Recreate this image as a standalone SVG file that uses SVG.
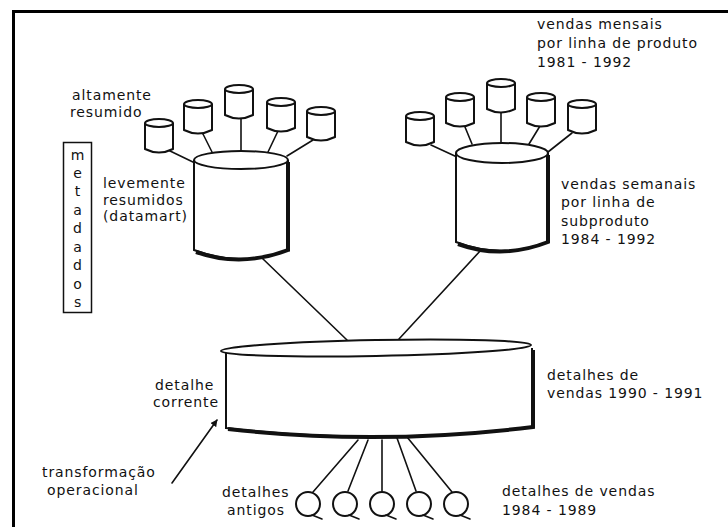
<svg xmlns="http://www.w3.org/2000/svg" width="728" height="527" viewBox="0 0 728 527">
  <style>
    text { font-family: "DejaVu Sans", Verdana, sans-serif; font-size: 14px; fill: #111; letter-spacing: 0.9px; }
    .ln { stroke: #111; stroke-width: 1.6; fill: none; stroke-linecap: round; }
    .shape { stroke: #111; stroke-width: 2; fill: #fff; }
    .thick { stroke: #111; stroke-width: 4; fill: none; }
    .frame { stroke: #000; stroke-width: 3; fill: #fff; }
  </style>
  <defs>
    <!-- small summary cylinder, origin at centre of its top ellipse -->
    <g id="mini">
      <path class="shape" d="M-14,0 V26 Q0,33 14,26 V0"/>
      <ellipse class="shape" cx="0" cy="0" rx="14" ry="4"/>
    </g>
    <!-- archive disk with a tail, like a letter Q -->
    <g id="disk">
      <circle class="shape" cx="0" cy="0" r="12"/>
      <path class="ln" d="M4,11 L14,15"/>
    </g>
    <marker id="arrow" viewBox="0 0 10 10" refX="9" refY="5" markerWidth="7" markerHeight="7" orient="auto-start-reverse" markerUnits="userSpaceOnUse">
      <path d="M0,0 L10,5 L0,10 z" fill="#111"/>
    </marker>
  </defs>

  <rect class="frame" x="13.5" y="11.5" width="730" height="530"/>

  <!-- connectors -->
  <g id="connectors">
    <line class="ln" x1="168" y1="150" x2="195" y2="163"/>
    <line class="ln" x1="203" y1="134" x2="212" y2="152"/>
    <line class="ln" x1="241" y1="119" x2="241" y2="150"/>
    <line class="ln" x1="278" y1="131" x2="268" y2="152"/>
    <line class="ln" x1="313" y1="140" x2="287" y2="156"/>

    <line class="ln" x1="431" y1="145" x2="457" y2="157"/>
    <line class="ln" x1="465" y1="127" x2="472" y2="144"/>
    <line class="ln" x1="501" y1="113" x2="501" y2="143"/>
    <line class="ln" x1="540" y1="126" x2="529" y2="144"/>
    <line class="ln" x1="572" y1="133" x2="548" y2="152"/>

    <line class="ln" x1="262" y1="258" x2="347" y2="340"/>
    <line class="ln" x1="481" y1="250" x2="399" y2="339"/>

    <line class="ln" x1="358" y1="440" x2="313" y2="492"/>
    <line class="ln" x1="368" y1="440" x2="348" y2="491"/>
    <line class="ln" x1="382" y1="440" x2="382" y2="491"/>
    <line class="ln" x1="397" y1="438" x2="416" y2="491"/>
    <line class="ln" x1="407" y1="437" x2="452" y2="492"/>

    <line class="ln" x1="172" y1="483" x2="217" y2="420" marker-end="url(#arrow)"/>
  </g>

  <!-- metadata column -->
  <g id="metadados">
    <rect x="63.5" y="142.5" width="28" height="170" fill="#fff" stroke="#111" stroke-width="1.5"/>
    <g text-anchor="middle">
      <text x="78" y="160">m</text>
      <text x="78" y="178">e</text>
      <text x="78" y="196">t</text>
      <text x="78" y="215">a</text>
      <text x="78" y="233">d</text>
      <text x="78" y="252">a</text>
      <text x="78" y="270">d</text>
      <text x="78" y="289">o</text>
      <text x="78" y="307">s</text>
    </g>
  </g>

  <!-- highly summarised tables over the datamart -->
  <g id="altamente-resumido">
    <use href="#mini" x="159" y="123"/>
    <use href="#mini" x="198" y="104"/>
    <use href="#mini" x="239" y="89"/>
    <use href="#mini" x="281" y="102"/>
    <use href="#mini" x="321" y="111"/>
    <text x="72" y="100">altamente</text>
    <text x="70" y="117">resumido</text>
  </g>

  <!-- lightly summarised datamart -->
  <g id="datamart">
    <path class="shape" d="M194,160 V250 Q241,268 288,250 V160"/>
    <path class="thick" d="M288,162 V250 Q241,268 196,252"/>
    <ellipse class="shape" cx="241" cy="160" rx="47" ry="9"/>
    <text x="103" y="188">levemente</text>
    <text x="103" y="204.5">resumidos</text>
    <text x="103" y="221">(datamart)</text>
  </g>

  <!-- monthly sales per product line -->
  <g id="vendas-mensais">
    <use href="#mini" x="420" y="116"/>
    <use href="#mini" x="460" y="97"/>
    <use href="#mini" x="501" y="83"/>
    <use href="#mini" x="541" y="97"/>
    <use href="#mini" x="582" y="104"/>
    <text x="537" y="29">vendas mensais</text>
    <text x="537" y="48">por linha de produto</text>
    <text x="537" y="67">1981 - 1992</text>
  </g>

  <!-- weekly sales per sub-product line -->
  <g id="vendas-semanais">
    <path class="shape" d="M456,153 V242 Q502,260 548,242 V153"/>
    <path class="thick" d="M548,155 V242 Q502,260 458,244"/>
    <ellipse class="shape" cx="502" cy="153" rx="46" ry="10"/>
    <text x="561" y="189">vendas semanais</text>
    <text x="561" y="207">por linha de</text>
    <text x="561" y="226">subproduto</text>
    <text x="561" y="244">1984 - 1992</text>
  </g>

  <!-- current detail -->
  <g id="detalhe-corrente">
    <path class="shape" d="M226,350 V428 Q379,446 532,427 V348"/>
    <path class="thick" d="M533,350 V427 Q379,446 228,429" stroke-width="3"/>
    <path d="M533,350 V427" stroke="#111" stroke-width="4"/>
    <ellipse class="shape" cx="376" cy="348" rx="155" ry="8" transform="rotate(-1.1 376 348)"/>
    <text x="155" y="390">detalhe</text>
    <text x="153" y="406.5">corrente</text>
    <text x="547" y="380">detalhes de</text>
    <text x="547" y="398">vendas 1990 - 1991</text>
  </g>

  <!-- old detail archives -->
  <g id="detalhes-antigos">
    <use href="#disk" x="308" y="504"/>
    <use href="#disk" x="345" y="504"/>
    <use href="#disk" x="382" y="504"/>
    <use href="#disk" x="419" y="504"/>
    <use href="#disk" x="456" y="504"/>
    <text x="222" y="497">detalhes</text>
    <text x="227" y="515">antigos</text>
    <text x="502" y="496">detalhes de vendas</text>
    <text x="502" y="515">1984 - 1989</text>
  </g>

  <g id="transformacao">
    <text x="42" y="477">transformação</text>
    <text x="47" y="495">operacional</text>
  </g>
</svg>
